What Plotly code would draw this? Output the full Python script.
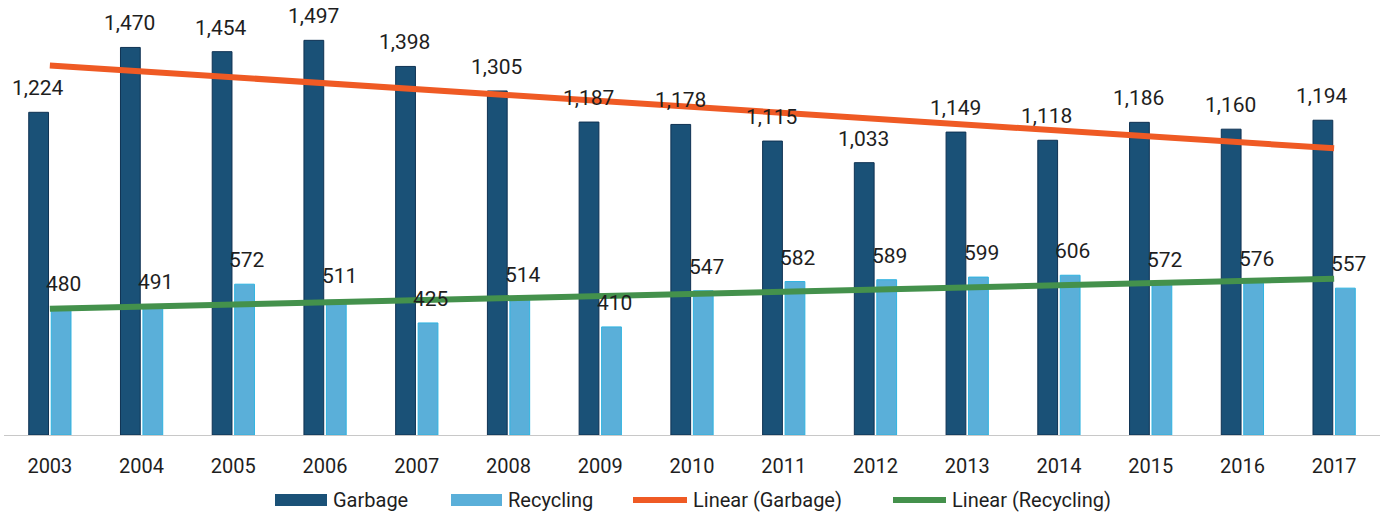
import numpy as np
import plotly.graph_objects as go

years = ["2003", "2004", "2005", "2006", "2007", "2008", "2009", "2010",
         "2011", "2012", "2013", "2014", "2015", "2016", "2017"]
garbage = [1224, 1470, 1454, 1497, 1398, 1305, 1187, 1178,
           1115, 1033, 1149, 1118, 1186, 1160, 1194]
recycling = [480, 491, 572, 511, 425, 514, 410, 547,
             582, 589, 599, 606, 572, 576, 557]

FONT = "Roboto, sans-serif"
TXT = "#1e1e1e"
NAVY = "#1a5177"
LIGHT = "#5aafd9"
ORANGE = "#ef5a24"
GREEN = "#44914c"

W, H = 1387, 514
ML, MR, MT, MB = 4, 7, 0, 79

# least-squares trend lines over the category index
idx = np.arange(len(years))
g_fit = np.polyval(np.polyfit(idx, garbage, 1), idx)
r_fit = np.polyval(np.polyfit(idx, recycling, 1), idx)

fig = go.Figure()
fig.add_trace(go.Bar(x=years, y=garbage, name="Garbage",
                     marker=dict(color=NAVY, line=dict(color="#0f3253", width=1))))
fig.add_trace(go.Bar(x=years, y=recycling, name="Recycling",
                     marker=dict(color=LIGHT, line=dict(color="#2fb3e0", width=1))))
fig.add_trace(go.Scatter(x=years, y=g_fit, name="Linear (Garbage)", mode="lines",
                         line=dict(color=ORANGE, width=6)))
fig.add_trace(go.Scatter(x=years, y=r_fit, name="Linear (Recycling)", mode="lines",
                         line=dict(color=GREEN, width=6)))

# value labels above each bar (x given as category index)
for i, g, r in zip(idx, garbage, recycling):
    fig.add_annotation(x=int(i), y=g, text=f"{g:,}", showarrow=False,
                       xshift=-12, yshift=24, font=dict(family=FONT, size=21, color=TXT))
    fig.add_annotation(x=int(i), y=r, text=f"{r:,}", showarrow=False,
                       xshift=14, yshift=24, font=dict(family=FONT, size=21, color=TXT))

# legend drawn below the axis: wide swatches followed by the series names
plot_w = W - ML - MR
plot_h = H - MT - MB


def px_x(px):
    return (px - ML) / plot_w


def px_y(py):
    return (H - MB - py) / plot_h


legend_items = [
    ("Garbage", NAVY, 275, 327, 12),
    ("Recycling", LIGHT, 451, 502, 12),
    ("Linear (Garbage)", ORANGE, 633, 687, 6),
    ("Linear (Recycling)", GREEN, 893, 946, 6),
]
LEG_Y = 500
for label, color, x0, x1, thick in legend_items:
    fig.add_shape(type="rect", xref="paper", yref="paper",
                  x0=px_x(x0), x1=px_x(x1),
                  y0=px_y(LEG_Y + thick / 2), y1=px_y(LEG_Y - thick / 2),
                  fillcolor=color, line=dict(width=0))
    fig.add_annotation(xref="paper", yref="paper", x=px_x(x1 + 4), y=px_y(LEG_Y),
                       xanchor="left", yanchor="middle", text=label, showarrow=False,
                       font=dict(family=FONT, size=20, color=TXT))

fig.update_layout(
    width=W, height=H,
    margin=dict(l=ML, r=MR, t=MT, b=MB),
    paper_bgcolor="white", plot_bgcolor="white",
    barmode="group", bargap=0.51, bargroupgap=0.12,
    font=dict(family=FONT, size=20, color=TXT),
    showlegend=False,
    xaxis=dict(type="category", range=[-0.5, len(years) - 0.5],
               showline=True, linecolor="#c8c8c8", linewidth=1,
               ticks="", ticklabelstandoff=13, automargin=False,
               tickfont=dict(family=FONT, size=20, color=TXT), showgrid=False),
    yaxis=dict(range=[0, 1650], visible=False, showgrid=False, automargin=False),
)

fig.write_html("out.html")
